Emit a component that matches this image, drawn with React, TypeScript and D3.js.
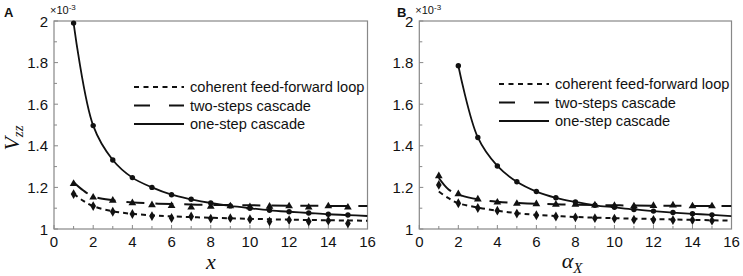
import React from "react";
import * as d3 from "d3";

// ---------- data (values ×1e-3) ----------
const simX = [1, 2, 3, 4, 5, 6, 7, 8, 9, 10, 11, 12, 13, 14, 15];
const curveX = [1, 1.5, 2, 3, 4, 5, 6, 8, 10, 12, 14, 16];

// Panel A
const aOneStepPts = [1.99, 1.497, 1.332, 1.247, 1.2, 1.165, 1.143, 1.125, 1.111, 1.1, 1.09, 1.083, 1.077, 1.071, 1.067];
const aOneStepLineX = [1, 2, 3, 4, 5, 6, 7, 8, 9, 10, 11, 12, 13, 14, 15, 16];
const aOneStepLine = [1.99, 1.497, 1.332, 1.247, 1.2, 1.165, 1.143, 1.125, 1.111, 1.1, 1.09, 1.083, 1.077, 1.071, 1.067, 1.0625];
const aTwoStepPts = [1.218, 1.152, 1.137, 1.125, 1.115, 1.112, 1.104, 1.108, 1.11, 1.106, 1.108, 1.11, 1.104, 1.11, 1.104];
const aTwoStepLine = [1.225, 1.185, 1.157, 1.138, 1.128, 1.123, 1.12, 1.116, 1.114, 1.112, 1.111, 1.11];
const aFflPts = [1.168, 1.11, 1.083, 1.072, 1.062, 1.053, 1.06, 1.05, 1.052, 1.047, 1.036, 1.043, 1.036, 1.04, 1.027];
const aFflLine = [1.17, 1.135, 1.11, 1.085, 1.073, 1.066, 1.061, 1.054, 1.049, 1.045, 1.042, 1.04];

// Panel B
const bOneStepX = [2, 3, 4, 5, 6, 7, 8, 9, 10, 11, 12, 13, 14, 15];
const bOneStepPts = [1.785, 1.44, 1.303, 1.227, 1.18, 1.15, 1.13, 1.114, 1.104, 1.094, 1.086, 1.079, 1.073, 1.068];
const bOneStepLineX = [2, 3, 4, 5, 6, 7, 8, 9, 10, 11, 12, 13, 14, 15, 16];
const bOneStepLine = [1.785, 1.44, 1.303, 1.227, 1.18, 1.15, 1.13, 1.114, 1.104, 1.094, 1.086, 1.079, 1.073, 1.068, 1.062];
const bTwoStepPts = [1.255, 1.168, 1.143, 1.128, 1.122, 1.12, 1.118, 1.118, 1.114, 1.112, 1.11, 1.112, 1.114, 1.11, 1.11];
const bTwoStepLine = [1.245, 1.19, 1.166, 1.143, 1.131, 1.125, 1.121, 1.117, 1.114, 1.112, 1.111, 1.11];
const bFflPts = [1.212, 1.124, 1.101, 1.088, 1.074, 1.066, 1.06, 1.056, 1.052, 1.05, 1.045, 1.044, 1.043, 1.043, 1.04];
const bFflLine = [1.18, 1.148, 1.124, 1.103, 1.088, 1.076, 1.068, 1.058, 1.052, 1.048, 1.044, 1.04];

const yTicks = [1, 1.2, 1.4, 1.6, 1.8, 2];
const yTickLabels = ["1", "1.2", "1.4", "1.6", "1.8", "2"];
const yMinor = [1.1, 1.3, 1.5, 1.7, 1.9];
const xTicks = [0, 2, 4, 6, 8, 10, 12, 14, 16];
const xMinor = [1, 3, 5, 7, 9, 11, 13, 15];
const legendLabels = ["coherent feed-forward loop", "two-steps cascade", "one-step cascade"];

const AXIS = "#888";
const INK = "#111";
const FONT = "Arial, 'Liberation Sans', sans-serif";
const SERIF = "'Times New Roman', 'Liberation Serif', serif";

type PanelProps = {
  left: number;
  right: number;
  letter: string;
  letterX: number;
  xLabel: React.ReactNode;
  oneStepX: number[];
  oneStepPts: number[];
  oneStepLineX: number[];
  oneStepLine: number[];
  twoStepPts: number[];
  twoStepLine: number[];
  fflPts: number[];
  fflLine: number[];
  legendX: number;
  legendY: number;
};

function Panel(p: PanelProps) {
  const top = 21;
  const bottom = 229;
  const x = d3.scaleLinear().domain([0, 16]).range([p.left, p.right]);
  const y = d3.scaleLinear().domain([1, 2]).range([bottom, top]);

  const lineGen = d3
    .line<[number, number]>()
    .x((d) => x(d[0]))
    .y((d) => y(d[1]))
    .curve(d3.curveCatmullRom.alpha(0.5));

  const zip = (xs: number[], ys: number[]) => xs.map((v, i) => [v, ys[i]] as [number, number]);

  const diamond = d3.symbol().type(d3.symbolDiamond).size(28)() as string;
  const triangle = d3.symbol().type(d3.symbolTriangle).size(26)() as string;

  const clipId = "clip" + p.letter;

  return (
    <g>
      <defs>
        <clipPath id={clipId}>
          <rect x={p.left} y={top - 5} width={p.right - p.left} height={bottom - top + 5} />
        </clipPath>
      </defs>
      {/* frame */}
      <rect x={p.left} y={top} width={p.right - p.left} height={bottom - top} fill="none" stroke={AXIS} strokeWidth={1.2} />
      {yTicks.map((t) => (
        <line key={"yt" + t} x1={p.left} x2={p.left + 4} y1={y(t)} y2={y(t)} stroke={AXIS} strokeWidth={1} />
      ))}
      {yMinor.map((t) => (
        <line key={"ym" + t} x1={p.left} x2={p.left + 3} y1={y(t)} y2={y(t)} stroke={AXIS} strokeWidth={1} />
      ))}
      {xTicks.map((t) => (
        <line key={"xt" + t} x1={x(t)} x2={x(t)} y1={bottom} y2={bottom - 4} stroke={AXIS} strokeWidth={1} />
      ))}
      {xMinor.map((t) => (
        <line key={"xm" + t} x1={x(t)} x2={x(t)} y1={bottom} y2={bottom - 3} stroke={AXIS} strokeWidth={1} />
      ))}
      {yTicks.map((t, i) => (
        <text key={"yl" + t} x={p.left - 6} y={y(t) + 5.5} textAnchor="end" fontFamily={FONT} fontSize={15} fill={INK}>
          {yTickLabels[i]}
        </text>
      ))}
      {xTicks.map((t) => (
        <text key={"xl" + t} x={x(t)} y={247} textAnchor="middle" fontFamily={FONT} fontSize={15} fill={INK}>
          {t}
        </text>
      ))}
      <text x={p.left - 4} y={14} fontFamily={FONT} fontSize={11} fill={INK}>
        ×10<tspan dy={-4} fontSize={8}>-3</tspan>
      </text>
      <text x={p.letterX} y={17} fontFamily={FONT} fontSize={13} fontWeight="bold" fill={INK}>
        {p.letter}
      </text>
      {p.xLabel}

      <g clipPath={`url(#${clipId})`} fill="none" stroke={INK}>
        <path d={lineGen(zip(curveX, p.fflLine)) || ""} strokeWidth={2} strokeDasharray="5,4" />
        <path d={lineGen(zip(curveX, p.twoStepLine)) || ""} strokeWidth={2} strokeDasharray="18,11" />
        <path d={lineGen(zip(p.oneStepLineX, p.oneStepLine)) || ""} strokeWidth={1.8} />
      </g>
      <g fill={INK}>
        {simX.map((v, i) => (
          <path key={"d" + v} d={diamond} transform={`translate(${x(v)},${y(p.fflPts[i])})`} />
        ))}
        {simX.map((v, i) => (
          <path key={"t" + v} d={triangle} transform={`translate(${x(v)},${y(p.twoStepPts[i])})`} />
        ))}
        {p.oneStepX.map((v, i) => (
          <circle key={"c" + v} cx={x(v)} cy={y(p.oneStepPts[i])} r={2.7} />
        ))}
      </g>
      {legendLabels.map((lab, i) => {
        const ly = p.legendY + i * 18.5;
        const dash = i === 0 ? "5,4.5" : i === 1 ? "16,19" : undefined;
        return (
          <g key={lab}>
            <line x1={p.legendX} x2={p.legendX + 50} y1={ly} y2={ly} stroke={INK} strokeWidth={2} strokeDasharray={dash} />
            <text x={p.legendX + 56} y={ly + 5} fontFamily={FONT} fontSize={14.6} fill={INK}>
              {lab}
            </text>
          </g>
        );
      })}
    </g>
  );
}

export default function App() {
  return (
    <svg
      width={743}
      height={276}
      viewBox="0 0 743 276"
      style={{ position: "absolute", left: 0, top: 0, display: "block", background: "#fff" }}
    >
      <rect width={743} height={276} fill="#fff" />
      <Panel
        left={54}
        right={367.5}
        letter="A"
        letterX={4}
        xLabel={
          <text x={211} y={269} textAnchor="middle" fontFamily={SERIF} fontStyle="italic" fontSize={22} fill={INK}>
            x
          </text>
        }
        oneStepX={simX}
        oneStepPts={aOneStepPts}
        oneStepLineX={aOneStepLineX}
        oneStepLine={aOneStepLine}
        twoStepPts={aTwoStepPts}
        twoStepLine={aTwoStepLine}
        fflPts={aFflPts}
        fflLine={aFflLine}
        legendX={134}
        legendY={87}
      />
      <Panel
        left={419.3}
        right={731.5}
        letter="B"
        letterX={397}
        xLabel={
          <text x={572} y={268} textAnchor="middle" fontFamily={SERIF} fontStyle="italic" fontSize={22} fill={INK}>
            α<tspan dy={5} fontSize={15}>X</tspan>
          </text>
        }
        oneStepX={bOneStepX}
        oneStepPts={bOneStepPts}
        oneStepLineX={bOneStepLineX}
        oneStepLine={bOneStepLine}
        twoStepPts={bTwoStepPts}
        twoStepLine={bTwoStepLine}
        fflPts={bFflPts}
        fflLine={bFflLine}
        legendX={499}
        legendY={84}
      />
      <text
        transform="translate(19,138) rotate(-90)"
        textAnchor="middle"
        fontFamily={SERIF}
        fontStyle="italic"
        fontSize={22}
        fill={INK}
      >
        V<tspan dy={4} fontSize={15}>zz</tspan>
      </text>
    </svg>
  );
}
